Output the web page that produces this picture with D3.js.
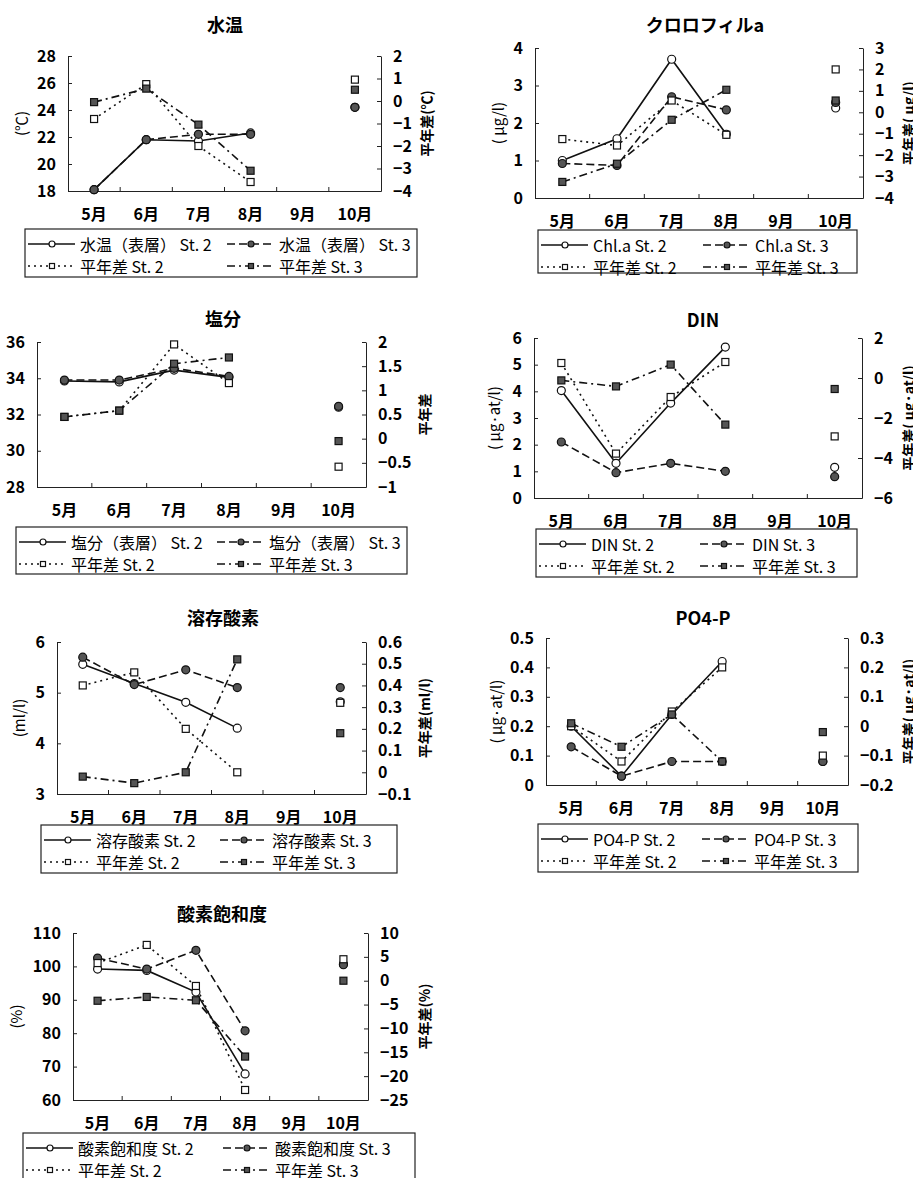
<!DOCTYPE html>
<html>
<head>
<meta charset="utf-8">
<script src="https://cdn.jsdelivr.net/npm/d3@7"></script>
<style>
body { margin: 0; background: #fff; }
svg { display: block; font-family: "Noto Sans CJK JP", "Noto Sans", sans-serif; }
</style>
</head>
<body>
<svg id="chart" width="913" height="1178"></svg>
<script>
var months = ['5月', '6月', '7月', '8月', '9月', '10月'];

// 水温
var wtSt2 = [18.1, 21.8, 21.7, 22.3, null, 24.2];
var wtSt3 = [18.1, 21.8, 22.2, 22.2, null, 24.2];
var wtDiff2 = [-0.8, 0.75, -2.0, -3.6, null, 0.95];
var wtDiff3 = [-0.05, 0.55, -1.05, -3.1, null, 0.5];
var wtLeftTicks = [18, 20, 22, 24, 26, 28];
var wtRightTicks = [-4, -3, -2, -1, 0, 1, 2];

// クロロフィルa
var chlSt2 = [1.0, 1.58, 3.7, 1.7, null, 2.4];
var chlSt3 = [0.92, 0.87, 2.7, 2.35, null, 2.55];
var chlDiff2 = [-1.25, -1.55, 0.55, -1.05, null, 2.0];
var chlDiff3 = [-3.25, -2.4, -0.35, 1.05, null, 0.55];
var chlLeftTicks = [0, 1, 2, 3, 4];
var chlRightTicks = [-4, -3, -2, -1, 0, 1, 2, 3];

// 塩分
var salSt2 = [33.85, 33.8, 34.45, 34.05, null, 32.4];
var salSt3 = [33.9, 33.9, 34.55, 34.1, null, 32.45];
var salDiff2 = [0.45, 0.58, 1.95, 1.15, null, -0.58];
var salDiff3 = [0.45, 0.58, 1.55, 1.68, null, -0.05];
var salLeftTicks = [28, 30, 32, 34, 36];
var salRightTicks = [-1, -0.5, 0, 0.5, 1, 1.5, 2];

// DIN
var dinSt2 = [4.03, 1.3, 3.56, 5.66, null, 1.15];
var dinSt3 = [2.1, 0.95, 1.3, 1.0, null, 0.8];
var dinDiff2 = [0.75, -3.78, -0.95, 0.8, null, -2.92];
var dinDiff3 = [-0.12, -0.42, 0.67, -2.33, null, -0.55];
var dinLeftTicks = [0, 1, 2, 3, 4, 5, 6];
var dinRightTicks = [-6, -4, -2, 0, 2];

// 溶存酸素
var doSt2 = [5.56, 5.18, 4.81, 4.3, null, 4.82];
var doSt3 = [5.7, 5.16, 5.45, 5.1, null, 5.1];
var doDiff2 = [0.4, 0.46, 0.2, 0.0, null, 0.32];
var doDiff3 = [-0.02, -0.05, 0.0, 0.52, null, 0.18];
var doLeftTicks = [3, 4, 5, 6];
var doRightTicks = [-0.1, 0, 0.1, 0.2, 0.3, 0.4, 0.5, 0.6];

// PO4-P
var poSt2 = [0.2, 0.03, 0.24, 0.42, null, 0.08];
var poSt3 = [0.13, 0.03, 0.08, 0.08, null, 0.08];
var poDiff2 = [0.0, -0.12, 0.05, 0.2, null, -0.1];
var poDiff3 = [0.01, -0.07, 0.04, -0.12, null, -0.02];
var poLeftTicks = [0, 0.1, 0.2, 0.3, 0.4, 0.5];
var poRightTicks = [-0.2, -0.1, 0, 0.1, 0.2, 0.3];

// 酸素飽和度
var dosSt2 = [99.2, 98.8, 92.3, 67.8, null, 100.7];
var dosSt3 = [102.5, 99.2, 104.8, 80.7, null, 100.5];
var dosDiff2 = [3.7, 7.5, -1.1, -22.9, null, 4.5];
var dosDiff3 = [-4.2, -3.4, -4.1, -15.9, null, 0];
var dosLeftTicks = [60, 70, 80, 90, 100, 110];
var dosRightTicks = [-25, -20, -15, -10, -5, 0, 5, 10];

var panels = [
  {title: '水温', names: ['水温（表層） St. 2', '水温（表層） St. 3', '平年差 St. 2', '平年差 St. 3'],
    series: [wtSt2, wtSt3, wtDiff2, wtDiff3], left: wtLeftTicks, right: wtRightTicks,
    leftLabel: '(℃)', rightLabel: '平年差(℃)'},
  {title: 'クロロフィルa', names: ['Chl.a St. 2', 'Chl.a St. 3', '平年差 St. 2', '平年差 St. 3'],
    series: [chlSt2, chlSt3, chlDiff2, chlDiff3], left: chlLeftTicks, right: chlRightTicks,
    leftLabel: '( μg/l)', rightLabel: '平年差( μg/l)'},
  {title: '塩分', names: ['塩分（表層） St. 2', '塩分（表層） St. 3', '平年差 St. 2', '平年差 St. 3'],
    series: [salSt2, salSt3, salDiff2, salDiff3], left: salLeftTicks, right: salRightTicks,
    leftLabel: '', rightLabel: '平年差'},
  {title: 'DIN', names: ['DIN St. 2', 'DIN St. 3', '平年差 St. 2', '平年差 St. 3'],
    series: [dinSt2, dinSt3, dinDiff2, dinDiff3], left: dinLeftTicks, right: dinRightTicks,
    leftLabel: '( μg·at/l)', rightLabel: '平年差( μg·at/l)'},
  {title: '溶存酸素', names: ['溶存酸素 St. 2', '溶存酸素 St. 3', '平年差 St. 2', '平年差 St. 3'],
    series: [doSt2, doSt3, doDiff2, doDiff3], left: doLeftTicks, right: doRightTicks,
    leftLabel: '(ml/l)', rightLabel: '平年差(ml/l)'},
  {title: 'PO4-P', names: ['PO4-P St. 2', 'PO4-P St. 3', '平年差 St. 2', '平年差 St. 3'],
    series: [poSt2, poSt3, poDiff2, poDiff3], left: poLeftTicks, right: poRightTicks,
    leftLabel: '( μg·at/l)', rightLabel: '平年差( μg·at/l)'},
  {title: '酸素飽和度', names: ['酸素飽和度 St. 2', '酸素飽和度 St. 3', '平年差 St. 2', '平年差 St. 3'],
    series: [dosSt2, dosSt3, dosDiff2, dosDiff3], left: dosLeftTicks, right: dosRightTicks,
    leftLabel: '(%)', rightLabel: '平年差(%)'}
];

// where each panel sits on the page: plot [l, r, t, b], title [x, y], legend [x, y, w, h, col2], y-label x's
var layouts = [
  {plot: [68, 381, 56, 191], title: [225, 24], legend: [25, 229, 392, 48, 202], yl: 20, yr: 425},
  {plot: [535, 863, 48, 198], title: [705, 24], legend: [538, 230, 319, 43, 165], yl: 497, yr: 907},
  {plot: [37, 366, 342, 487], title: [223, 318], legend: [16, 527, 391, 47, 201], yl: 0, yr: 423},
  {plot: [534, 862, 338, 498], title: [703, 319], legend: [536, 529, 321, 48, 164], yl: 493, yr: 907},
  {plot: [57, 366, 642, 794], title: [223, 617], legend: [41, 825, 356, 48, 179], yl: 18, yr: 423},
  {plot: [546, 848, 638, 785], title: [703, 617], legend: [538, 824, 320, 48, 164], yl: 495, yr: 907},
  {plot: [73, 368, 933, 1100], title: [222, 913], legend: [23, 1133, 392, 52, 200], yl: 15, yr: 423}
];

// St.2, St.3, 平年差 St.2, 平年差 St.3
var styles = [
  {dash: null, marker: 'circle', fill: '#fff', axis: 'L'},
  {dash: '8,4', marker: 'circle', fill: '#555', axis: 'L'},
  {dash: '2,4', marker: 'square', fill: '#fff', axis: 'R'},
  {dash: '8,4,2,4', marker: 'square', fill: '#555', axis: 'R'}
];

var svg = d3.select('#chart');
svg.append('rect').attr('width', 913).attr('height', 1178).attr('fill', '#fff');
var fmt = d3.format('~g');

function drawMarker(g, type, cx, cy, size, fill) {
  if (type === 'circle') {
    g.append('circle').attr('cx', cx).attr('cy', cy).attr('r', size / 2)
      .attr('fill', fill).attr('stroke', '#111').attr('stroke-width', 1.2);
  } else {
    g.append('rect').attr('x', cx - size / 2).attr('y', cy - size / 2)
      .attr('width', size).attr('height', size)
      .attr('fill', fill).attr('stroke', '#111').attr('stroke-width', 1.2);
  }
}

function drawPanel(p, lay) {
  var l = lay.plot[0], r = lay.plot[1], t = lay.plot[2], b = lay.plot[3];
  var g = svg.append('g');

  var x = d3.scaleBand().domain(months).range([l, r]);
  var yL = d3.scaleLinear().domain(d3.extent(p.left)).range([b, t]);
  var yR = d3.scaleLinear().domain(d3.extent(p.right)).range([b, t]);

  g.append('text').attr('x', lay.title[0]).attr('y', lay.title[1])
    .attr('text-anchor', 'middle').attr('dominant-baseline', 'central')
    .attr('font-size', 18).attr('font-weight', 'bold').text(p.title);

  // axes
  var ax = g.append('g').attr('transform', 'translate(0,' + b + ')')
    .call(d3.axisBottom(x).tickSize(0));
  ax.selectAll('text').attr('y', 23).attr('dy', '0.35em')
    .attr('font-size', 16).attr('font-weight', 'bold');
  g.selectAll('.xtick').data(months.slice(1)).enter().append('line')
    .attr('x1', function(m) { return x(m); }).attr('x2', function(m) { return x(m); })
    .attr('y1', b).attr('y2', b - 4).attr('stroke', '#222');

  var al = g.append('g').attr('transform', 'translate(' + l + ',0)')
    .call(d3.axisLeft(yL).tickValues(p.left).tickFormat(fmt).tickSizeInner(-4).tickSizeOuter(0).tickPadding(12));
  var ar = g.append('g').attr('transform', 'translate(' + r + ',0)')
    .call(d3.axisRight(yR).tickValues(p.right).tickFormat(fmt).tickSizeInner(-4).tickSizeOuter(0).tickPadding(12));
  [ax, al, ar].forEach(function(a) {
    a.attr('font-family', null);
    a.select('.domain').attr('stroke', '#222');
    a.selectAll('line').attr('stroke', '#222');
  });
  al.selectAll('text').attr('font-size', 16).attr('font-weight', 'bold');
  ar.selectAll('text').attr('font-size', 16).attr('font-weight', 'bold');

  if (p.leftLabel) {
    g.append('text').attr('transform', 'translate(' + lay.yl + ',' + (t + b) / 2 + ') rotate(-90)')
      .attr('text-anchor', 'middle').attr('dominant-baseline', 'central')
      .attr('font-size', 15).text(p.leftLabel);
  }
  g.append('text').attr('transform', 'translate(' + (lay.yr + 1) + ',' + (t + b) / 2 + ') rotate(-90)')
    .attr('text-anchor', 'middle').attr('dominant-baseline', 'central')
    .attr('font-size', 14).attr('font-weight', 'bold').text(p.rightLabel);

  // lines, then markers on top
  var pts = p.series.map(function(vals, i) {
    var y = styles[i].axis === 'L' ? yL : yR;
    return vals.map(function(v, j) {
      return {v: v, x: x(months[j]) + x.bandwidth() / 2, y: v == null ? null : y(v)};
    });
  });
  var line = d3.line().defined(function(d) { return d.v != null; })
    .x(function(d) { return d.x; }).y(function(d) { return d.y; });
  pts.forEach(function(s, i) {
    g.append('path').attr('d', line(s)).attr('fill', 'none')
      .attr('stroke', '#111').attr('stroke-width', 1.6)
      .attr('stroke-dasharray', styles[i].dash);
  });
  pts.forEach(function(s, i) {
    s.forEach(function(d) {
      if (d.v == null) return;
      drawMarker(g, styles[i].marker, d.x, d.y, styles[i].marker === 'circle' ? 8 : 7, styles[i].fill);
    });
  });

  // legend
  var lg = lay.legend;
  g.append('rect').attr('x', lg[0]).attr('y', lg[1]).attr('width', lg[2]).attr('height', lg[3])
    .attr('fill', '#fff').attr('stroke', '#222').attr('stroke-width', 1.2);
  p.names.forEach(function(name, i) {
    var ox = lg[0] + (i % 2 ? lg[4] : 3);
    var cy = lg[1] + (i < 2 ? 15 : 37);
    g.append('line').attr('x1', ox).attr('x2', ox + 47).attr('y1', cy).attr('y2', cy)
      .attr('stroke', '#111').attr('stroke-width', 1.5).attr('stroke-dasharray', styles[i].dash);
    drawMarker(g, styles[i].marker, ox + 24, cy, styles[i].marker === 'circle' ? 6 : 5, styles[i].fill);
    g.append('text').attr('x', ox + 52).attr('y', cy).attr('dominant-baseline', 'central')
      .attr('font-size', 16).text(name);
  });
}

panels.forEach(function(p, i) { drawPanel(p, layouts[i]); });
</script>
</body>
</html>
